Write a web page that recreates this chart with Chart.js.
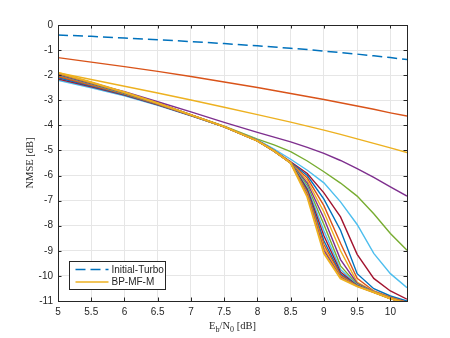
<!DOCTYPE html>
<html>
<head>
<meta charset="utf-8">
<script src="https://cdn.jsdelivr.net/npm/chart.js@4.4.1/dist/chart.umd.min.js"></script>
<style>
  html, body { margin: 0; padding: 0; background: #fff; }
  #wrap { width: 450px; height: 338px; }
</style>
</head>
<body>
<div id="wrap"><canvas id="nmseChart" width="450" height="338"></canvas></div>
<script>
// Eb/N0 [dB]
const snr = [5, 5.5, 6, 6.5, 7, 7.5, 8, 8.25, 8.5, 8.75, 9, 9.25, 9.5, 9.75, 10, 10.25];

const xTicks = [5, 5.5, 6, 6.5, 7, 7.5, 8, 8.5, 9, 9.5, 10];
const yTicks = [0, -1, -2, -3, -4, -5, -6, -7, -8, -9, -10, -11];

// NMSE [dB]
const initialTurbo = [-0.40, -0.45, -0.52, -0.59, -0.66, -0.74, -0.83, -0.88, -0.93, -0.98, -1.04, -1.10, -1.16, -1.23, -1.30, -1.38];

const iter01 = [-1.30, -1.48, -1.66, -1.85, -2.05, -2.27, -2.49, -2.61, -2.73, -2.85, -2.97, -3.10, -3.23, -3.36, -3.50, -3.63];
const iter02 = [-1.90, -2.17, -2.44, -2.71, -2.99, -3.28, -3.57, -3.72, -3.87, -4.03, -4.19, -4.36, -4.54, -4.72, -4.90, -5.08];
const iter03 = [-2.00, -2.33, -2.66, -3.06, -3.46, -3.88, -4.28, -4.47, -4.66, -4.88, -5.12, -5.40, -5.72, -6.07, -6.45, -6.82];
const iter04 = [-2.05, -2.40, -2.76, -3.16, -3.58, -4.03, -4.55, -4.78, -5.05, -5.42, -5.85, -6.30, -6.82, -7.52, -8.31, -8.98];
const iter05 = [-2.20, -2.50, -2.82, -3.20, -3.62, -4.06, -4.58, -4.95, -5.35, -5.79, -6.29, -7.05, -7.95, -9.10, -9.91, -10.47];
const iter06 = [-2.15, -2.46, -2.79, -3.18, -3.61, -4.06, -4.60, -5.00, -5.45, -5.92, -6.69, -7.65, -9.14, -10.10, -10.60, -10.93];
const iter07 = [-2.10, -2.43, -2.77, -3.17, -3.60, -4.06, -4.61, -5.02, -5.48, -6.00, -6.94, -8.18, -9.91, -10.51, -10.80, -11.00];
const iter08 = [-2.05, -2.40, -2.75, -3.16, -3.60, -4.06, -4.62, -5.03, -5.50, -6.10, -7.20, -8.70, -10.10, -10.60, -10.85, -11.05];
const iter09 = [-2.00, -2.36, -2.73, -3.14, -3.59, -4.06, -4.62, -5.03, -5.50, -6.20, -7.45, -9.00, -10.25, -10.62, -10.88, -11.08];
const iter10 = [-1.99, -2.35, -2.72, -3.14, -3.59, -4.06, -4.62, -5.03, -5.50, -6.30, -7.70, -9.35, -10.30, -10.63, -10.89, -11.09];
const iter11 = [-1.98, -2.34, -2.72, -3.13, -3.59, -4.06, -4.62, -5.03, -5.50, -6.40, -7.95, -9.60, -10.34, -10.64, -10.89, -11.09];
const iter12 = [-1.97, -2.33, -2.71, -3.13, -3.58, -4.06, -4.62, -5.03, -5.50, -6.48, -8.20, -9.75, -10.36, -10.64, -10.90, -11.10];
const iter13 = [-1.96, -2.32, -2.70, -3.13, -3.58, -4.05, -4.62, -5.03, -5.50, -6.55, -8.40, -9.85, -10.38, -10.65, -10.90, -11.10];
const iter14 = [-1.95, -2.31, -2.70, -3.12, -3.58, -4.05, -4.62, -5.02, -5.50, -6.62, -8.60, -9.93, -10.39, -10.65, -10.90, -11.10];
const iter15 = [-1.94, -2.30, -2.69, -3.12, -3.58, -4.05, -4.62, -5.02, -5.50, -6.68, -8.75, -9.98, -10.40, -10.65, -10.90, -11.10];
const iter16 = [-1.93, -2.30, -2.69, -3.12, -3.58, -4.05, -4.62, -5.02, -5.50, -6.73, -8.88, -10.03, -10.41, -10.65, -10.90, -11.10];
const iter17 = [-1.92, -2.29, -2.68, -3.12, -3.58, -4.05, -4.62, -5.02, -5.50, -6.78, -8.98, -10.06, -10.41, -10.65, -10.90, -11.10];
const bpMfM  = [-1.90, -2.28, -2.68, -3.12, -3.58, -4.05, -4.62, -5.02, -5.50, -6.85, -9.10, -10.10, -10.42, -10.65, -10.90, -11.10];

const iterations = [iter01, iter02, iter03, iter04, iter05, iter06, iter07, iter08, iter09,
                    iter10, iter11, iter12, iter13, iter14, iter15, iter16, iter17];

// MATLAB Standardfarben
const matlabColors = ['#0072BD', '#D95319', '#EDB120', '#7E2F8E', '#77AC30', '#4DBEEE', '#A2142F'];

const axisColor = '#262626';

function toPoints(ys) {
    return ys.map((y, i) => ({ x: snr[i], y: y }));
}

let datasets = [];
datasets.push({
    label: 'Initial-Turbo',
    data: toPoints(initialTurbo),
    borderColor: matlabColors[0],
    borderWidth: 1.5,
    borderDash: [10, 5],
    inLegend: true
});
iterations.forEach((ys, i) => {
    datasets.push({
        label: 'Iteration ' + (i + 1),
        data: toPoints(ys),
        borderColor: matlabColors[(i + 1) % matlabColors.length],
        borderWidth: 1.4,
        inLegend: false
    });
});
datasets.push({
    label: 'BP-MF-M',
    data: toPoints(bpMfM),
    borderColor: matlabColors[2],
    borderWidth: 2,
    inLegend: true
});
// spaetere Kurven oben zeichnen (wie MATLAB)
datasets.forEach((d, i) => {
    d.order = -i;
    d.pointRadius = 0;
    d.fill = false;
    d.tension = 0;
});

// Rahmen, Ticks nach innen, Legende und Achsentitel
const matlabFrame = {
    id: 'matlabFrame',
    afterDraw(chart) {
        const ctx = chart.ctx;
        const a = chart.chartArea;
        const xs = chart.scales.x, ys = chart.scales.y;
        ctx.save();

        ctx.strokeStyle = axisColor;
        ctx.lineWidth = 1;
        ctx.strokeRect(Math.round(a.left) + 0.5, Math.round(a.top) + 0.5,
                       Math.round(a.right - a.left), Math.round(a.bottom - a.top));

        const tl = 3.5;
        ctx.beginPath();
        xTicks.forEach(v => {
            const px = Math.round(xs.getPixelForValue(v)) + 0.5;
            ctx.moveTo(px, a.bottom); ctx.lineTo(px, a.bottom - tl);
            ctx.moveTo(px, a.top); ctx.lineTo(px, a.top + tl);
        });
        yTicks.forEach(v => {
            const py = Math.round(ys.getPixelForValue(v)) + 0.5;
            ctx.moveTo(a.left, py); ctx.lineTo(a.left + tl, py);
            ctx.moveTo(a.right, py); ctx.lineTo(a.right - tl, py);
        });
        ctx.stroke();

        // Legende
        const lx = 69.5, ly = 261.5, lw = 96, lh = 28;
        ctx.fillStyle = '#fff';
        ctx.fillRect(lx, ly, lw, lh);
        ctx.strokeStyle = axisColor;
        ctx.lineWidth = 1;
        ctx.strokeRect(lx, ly, lw, lh);
        ctx.font = '10px "Liberation Sans", Arial, sans-serif';
        ctx.textBaseline = 'middle';
        ctx.textAlign = 'left';
        const items = chart.data.datasets.filter(d => d.inLegend);
        items.forEach((d, i) => {
            const y = ly + 8 + i * 12.5;
            ctx.strokeStyle = d.borderColor;
            ctx.lineWidth = 1.5;
            ctx.setLineDash(d.borderDash || []);
            ctx.beginPath();
            ctx.moveTo(lx + 6, y); ctx.lineTo(lx + 39, y);
            ctx.stroke();
            ctx.setLineDash([]);
            ctx.fillStyle = axisColor;
            ctx.fillText(d.label, lx + 42, y + 0.5);
        });

        // y-Achsentitel
        ctx.fillStyle = axisColor;
        ctx.font = '10.5px "Liberation Serif", "Times New Roman", serif';
        ctx.textAlign = 'center';
        ctx.textBaseline = 'middle';
        ctx.save();
        ctx.translate(30, (a.top + a.bottom) / 2);
        ctx.rotate(-Math.PI / 2);
        ctx.fillText('NMSE [dB]', 0, 0);
        ctx.restore();

        // x-Achsentitel mit Indizes
        const bigFont = '10.5px "Liberation Serif", "Times New Roman", serif';
        const smallFont = '8px "Liberation Serif", "Times New Roman", serif';
        const parts = [['E', false], ['b', true], ['/N', false], ['0', true], [' [dB]', false]];
        let total = 0;
        parts.forEach(p => {
            ctx.font = p[1] ? smallFont : bigFont;
            total += ctx.measureText(p[0]).width;
        });
        let cx = (a.left + a.right) / 2 - total / 2;
        const base = 329;
        ctx.textAlign = 'left';
        ctx.textBaseline = 'alphabetic';
        parts.forEach(p => {
            ctx.font = p[1] ? smallFont : bigFont;
            ctx.fillText(p[0], cx, p[1] ? base + 3 : base);
            cx += ctx.measureText(p[0]).width;
        });

        ctx.restore();
    }
};

const ctx = document.getElementById('nmseChart').getContext('2d');
const tickFont = { family: '"Liberation Sans", Arial, sans-serif', size: 10 };

let nmseChart = new Chart(ctx, {
    type: 'line',
    data: { datasets: datasets },
    options: {
        responsive: false,
        animation: false,
        devicePixelRatio: 1,
        layout: { padding: { top: 25, right: 43, left: 0, bottom: 0 } },
        plugins: {
            legend: { display: false },
            tooltip: { enabled: false }
        },
        scales: {
            x: {
                type: 'linear',
                min: 5,
                max: 10.25,
                afterFit: s => { s.height = 37; },
                afterBuildTicks: s => { s.ticks = xTicks.map(v => ({ value: v })); },
                ticks: {
                    font: tickFont, color: axisColor, padding: 5, maxRotation: 0, autoSkip: false,
                    callback: v => String(v)
                },
                grid: { color: '#e6e6e6', lineWidth: 1, drawTicks: false },
                border: { display: false }
            },
            y: {
                type: 'linear',
                min: -11,
                max: 0,
                afterFit: s => { s.width = 58; },
                afterBuildTicks: s => { s.ticks = yTicks.map(v => ({ value: v })); },
                ticks: {
                    font: tickFont, color: axisColor, padding: 5, autoSkip: false,
                    callback: v => String(v)
                },
                grid: { color: '#e6e6e6', lineWidth: 1, drawTicks: false },
                border: { display: false }
            }
        }
    },
    plugins: [matlabFrame]
});
</script>
</body>
</html>
